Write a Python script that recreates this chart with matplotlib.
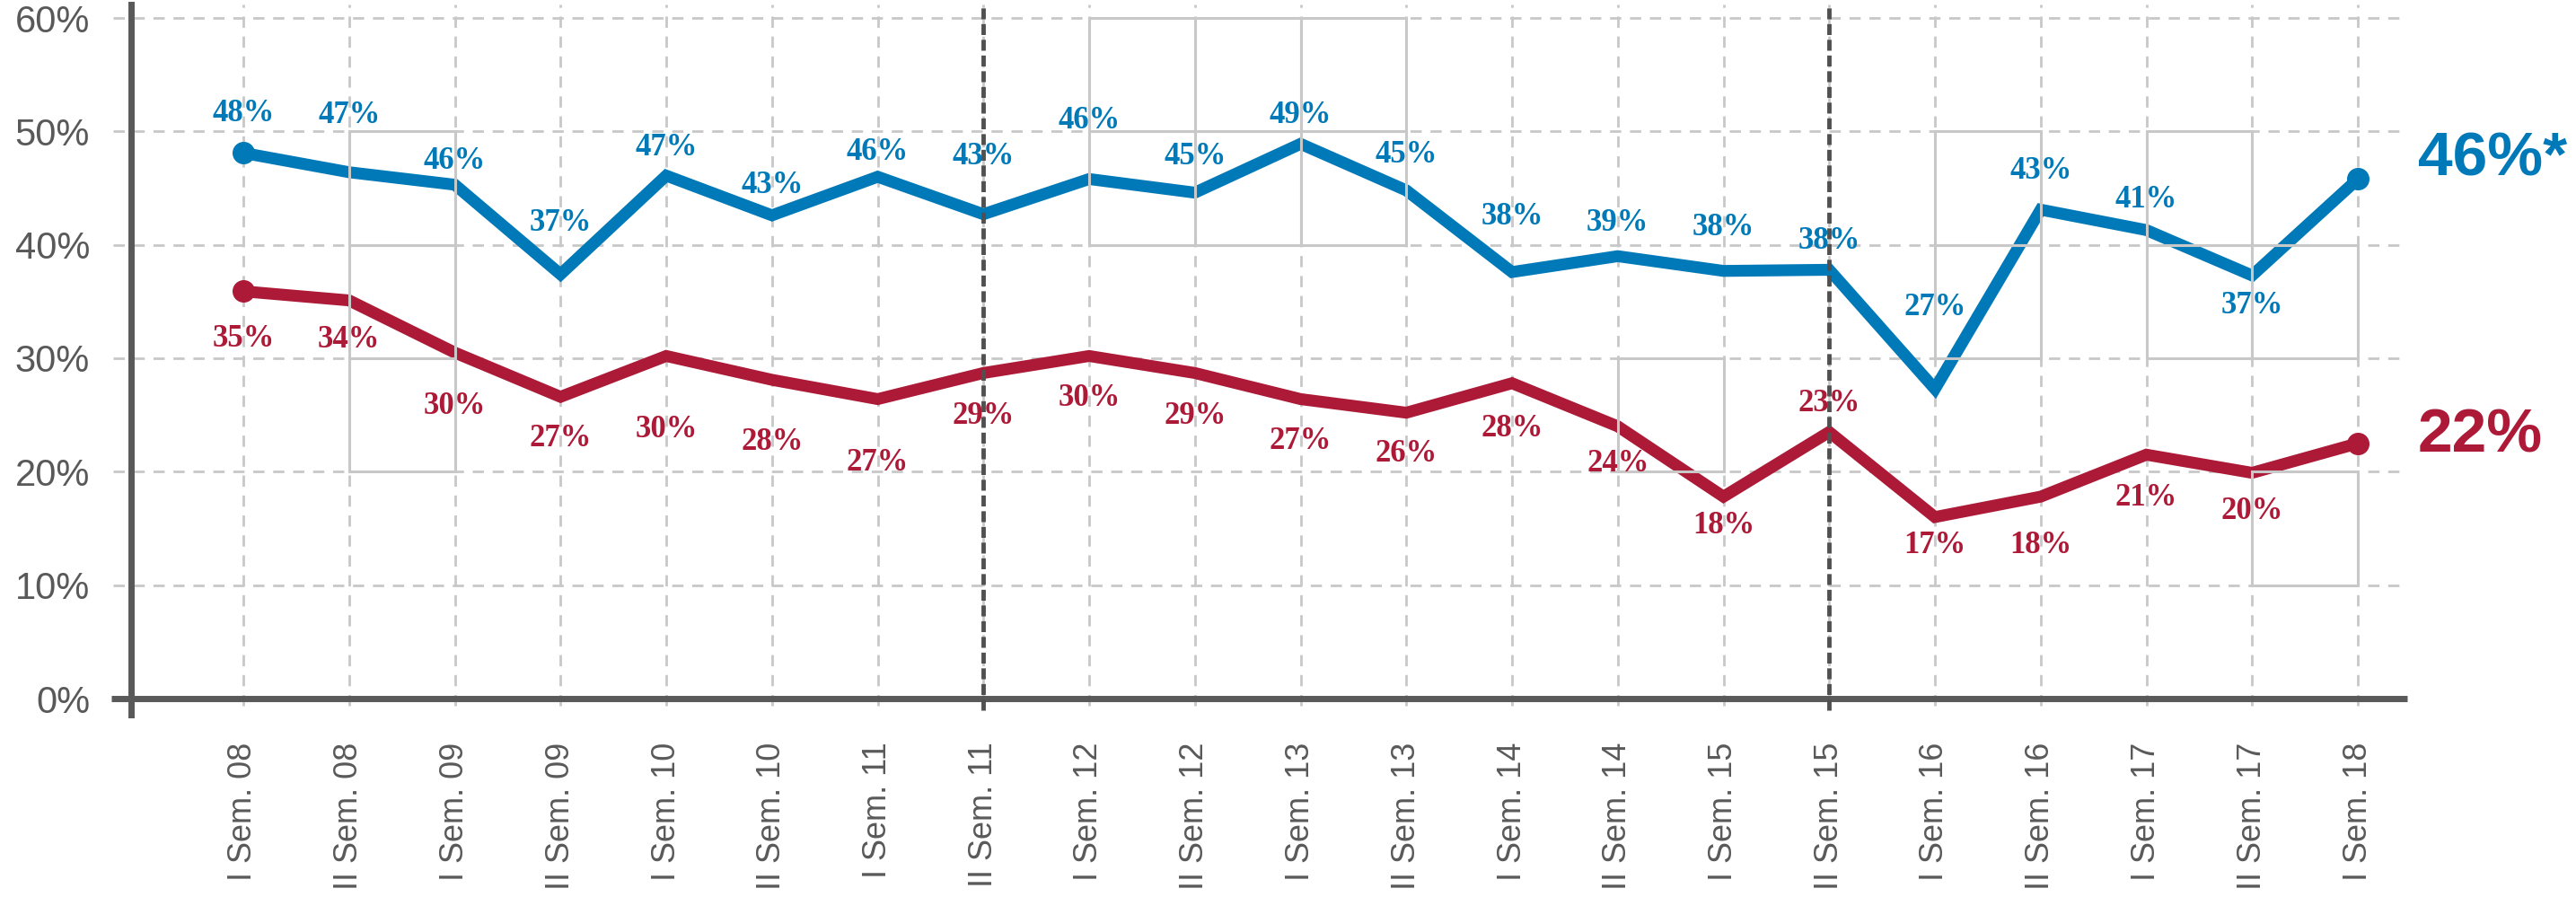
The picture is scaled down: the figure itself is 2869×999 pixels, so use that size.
import matplotlib
matplotlib.use("Agg")
import matplotlib.pyplot as plt
from matplotlib.patches import Rectangle

# ---------------- data ----------------
categories = ["I Sem. 08", "II Sem. 08", "I Sem. 09", "II Sem. 09", "I Sem. 10", "II Sem. 10",
              "I Sem. 11", "II Sem. 11", "I Sem. 12", "II Sem. 12", "I Sem. 13", "II Sem. 13",
              "I Sem. 14", "II Sem. 14", "I Sem. 15", "II Sem. 15", "I Sem. 16", "II Sem. 16",
              "I Sem. 17", "II Sem. 17", "I Sem. 18"]

blue_values = [48.1, 46.4, 45.3, 37.4, 46.1, 42.6, 46.0, 42.7, 45.8, 44.6, 48.9, 44.8,
               37.6, 39.0, 37.7, 37.8, 27.3, 43.1, 41.3, 37.3, 45.8]
blue_labels = ["48%", "47%", "46%", "37%", "47%", "43%", "46%", "43%", "46%", "45%", "49%", "45%",
               "38%", "39%", "38%", "38%", "27%", "43%", "41%", "37%", None]
blue_final = "46%*"

red_values = [35.9, 35.1, 30.5, 26.6, 30.2, 28.1, 26.4, 28.7, 30.2, 28.7, 26.4, 25.2,
              27.8, 24.0, 17.8, 23.5, 16.0, 17.8, 21.5, 19.9, 22.5]
red_labels = ["35%", "34%", "30%", "27%", "30%", "28%", "27%", "29%", "30%", "29%", "27%", "26%",
              "28%", "24%", "18%", "23%", "17%", "18%", "21%", "20%", None]
red_final = "22%"

yticks = [0, 10, 20, 30, 40, 50, 60]
period_breaks = [7, 15]   # dark dashed separators (II Sem. 11, II Sem. 15)

# ---------------- style ----------------
BLUE = "#0079B8"
RED = "#AC1A37"
AXIS = "#595959"
GRID = "#C8C8C8"

# label offsets (in percentage units, + above / - below)
blue_off = [3.5, 5.0, 2.1, 4.5, 2.5, 2.6, 2.2, 5.1, 5.1, 3.2, 2.5, 3.1,
            4.9, 2.9, 3.8, 2.5, 7.2, 3.4, 2.7, -2.7, 0]
red_off = [-4.2, -3.5, -4.7, -3.7, -6.5, -5.5, -5.6, -3.8, -3.7, -3.8, -3.7, -3.6,
           -4.0, -3.3, -2.6, 2.5, -2.5, -4.3, -3.8, -3.4, 0]

# solid grey grid cells (artifacts of the original): (col0, col1, y0, y1)
solid_cells = [(1, 2, 20, 30), (1, 2, 30, 40), (1, 2, 40, 50),
               (8, 9, 40, 50), (9, 10, 40, 50), (10, 11, 40, 50),
               (8, 9, 50, 60), (9, 10, 50, 60), (10, 11, 50, 60),
               (13, 14, 20, 30),
               (16, 17, 30, 40), (16, 17, 40, 50),
               (18, 19, 30, 40), (18, 19, 40, 50),
               (19, 20, 30, 40), (19, 20, 10, 20)]

W, H = 2869, 999
fig = plt.figure(figsize=(W / 100, H / 100), dpi=100)

# geometry in pixels
x_first, x_last = 271, 2626
px_per_cat = (x_last - x_first) / (len(categories) - 1)
y0_px, y60_px = 778, 20
px_per_pct = (y0_px - y60_px) / 60.0
ax_left, ax_right, ax_top, ax_bottom = 146, 2681, 5, 796

ax = fig.add_axes([ax_left / W, (H - ax_bottom) / H, (ax_right - ax_left) / W, (ax_bottom - ax_top) / H])
xmin = -(x_first - ax_left) / px_per_cat
xmax = (len(categories) - 1) + (ax_right - x_last) / px_per_cat
ymin = -(ax_bottom - y0_px) / px_per_pct
ymax = 60 + (y60_px - ax_top) / px_per_pct
ax.set_xlim(xmin, xmax)
ax.set_ylim(ymin, ymax)

x = list(range(len(categories)))

# horizontal dashed grid
grid_left = -(x_first - 126) / px_per_cat
for v in yticks[1:]:
    ax.plot([grid_left, xmax], [v, v], color=GRID, lw=2, linestyle=(0, (4.5, 3.5)),
            clip_on=False, zorder=1)
# vertical dashed grid
for i in x:
    ax.plot([i, i], [-0.6, ymax], color=GRID, lw=2, linestyle=(0, (4.5, 3.5)),
            clip_on=False, zorder=1)

# solid grey cells
for c0, c1, ya, yb in solid_cells:
    ax.add_patch(Rectangle((c0, ya), c1 - c0, yb - ya, fill=False, edgecolor=GRID,
                           lw=2.2, zorder=3.5))

# series lines
ax.plot(x, blue_values, color=BLUE, lw=9.5, solid_joinstyle="miter", zorder=3)
ax.plot(x, red_values, color=RED, lw=9.5, solid_joinstyle="miter", zorder=3)
ax.plot([x[0], x[-1]], [blue_values[0], blue_values[-1]], "o", color=BLUE, ms=17, zorder=3)
ax.plot([x[0], x[-1]], [red_values[0], red_values[-1]], "o", color=RED, ms=17, zorder=3)

pt_per_pct = px_per_pct * 0.72
label_font = dict(family=["Liberation Serif", "DejaVu Serif"], weight="bold", size=25)
for i, (v, lab) in enumerate(zip(blue_values, blue_labels)):
    if lab:
        ax.annotate(lab, (i, v), xytext=(0, blue_off[i] * pt_per_pct), textcoords="offset points",
                    ha="center", va="center", color=BLUE, zorder=4, **label_font)
for i, (v, lab) in enumerate(zip(red_values, red_labels)):
    if lab:
        ax.annotate(lab, (i, v), xytext=(0, red_off[i] * pt_per_pct), textcoords="offset points",
                    ha="center", va="center", color=RED, zorder=4, **label_font)

big_font = dict(family=["Liberation Sans", "DejaVu Sans"], weight="bold", size=50)
ax.annotate(blue_final, (x[-1], blue_values[-1]), xytext=(48, 16), textcoords="offset points",
            ha="left", va="center", color=BLUE, annotation_clip=False, **big_font)
ax.annotate(red_final, (x[-1], red_values[-1]), xytext=(48, 6), textcoords="offset points",
            ha="left", va="center", color=RED, annotation_clip=False, **big_font)

# dark dashed period separators (on top)
for b in period_breaks:
    ax.plot([b, b], [-1.0, ymax], color="#505050", lw=3.5, linestyle=(0, (2.5, 1.1)),
            clip_on=False, zorder=6)

# axes
for s in ["top", "right", "bottom"]:
    ax.spines[s].set_visible(False)
ax.spines["left"].set_linewidth(5)
ax.spines["left"].set_color(AXIS)
ax.spines["left"].set_zorder(5)
axis_left = -(x_first - 124) / px_per_cat
ax.plot([axis_left, xmax], [0, 0], color=AXIS, lw=5, solid_capstyle="butt",
        clip_on=False, zorder=5)

ax.set_yticks(yticks)
ax.set_yticklabels([f"{v}%" for v in yticks], fontsize=30, color=AXIS,
                   family=["Liberation Sans", "DejaVu Sans"])
ax.set_xticks(x)
ax.set_xticklabels(categories, rotation=90, fontsize=26, color=AXIS,
                   family=["Liberation Sans", "DejaVu Sans"])
ax.tick_params(axis="y", length=0, pad=33)
ax.tick_params(axis="x", length=0, pad=22)

fig.savefig("out.png", dpi=100)
